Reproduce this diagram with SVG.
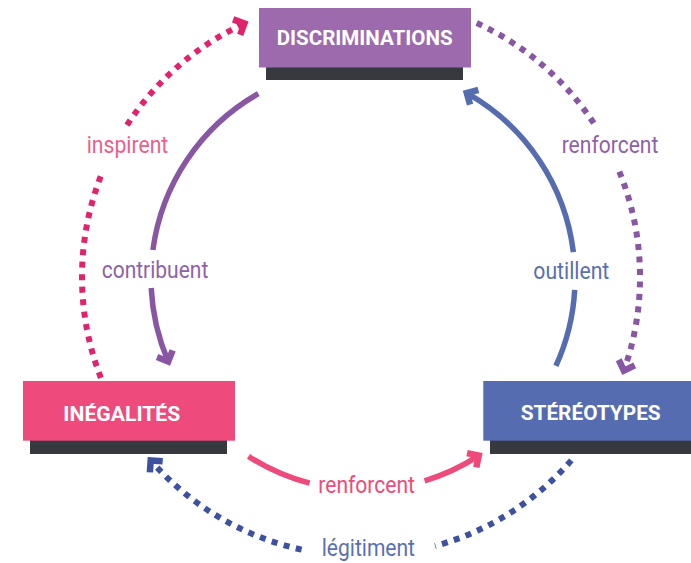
<svg xmlns="http://www.w3.org/2000/svg" width="691" height="563" viewBox="0 0 691 563">
<style>
.shadow{fill:#363a3e}
.boxtxt{font-family:Roboto,"Liberation Sans",sans-serif;font-weight:700;font-size:21px;fill:#ffffff}
.lbl{font-family:Roboto,"Liberation Sans",sans-serif;font-size:23px}
.solid{fill:none;stroke-width:5.5;stroke-linecap:butt}
.dot{fill:none;stroke-width:6;stroke-dasharray:6 6.5;stroke-linecap:butt}
</style>
<defs>
<marker id="hPurple" viewBox="-15 -15 30 30" markerWidth="30" markerHeight="30" refX="0" refY="0" orient="auto" markerUnits="userSpaceOnUse"><path d="M-8.5,-8.5 L0,0 L-8.5,8.5" fill="none" stroke="#8856a3" stroke-width="6.5"/></marker>
<marker id="hBlue" viewBox="-15 -15 30 30" markerWidth="30" markerHeight="30" refX="0" refY="0" orient="auto" markerUnits="userSpaceOnUse"><path d="M-8.5,-8.5 L0,0 L-8.5,8.5" fill="none" stroke="#566cb1" stroke-width="6.5"/></marker>
<marker id="hPink" viewBox="-15 -15 30 30" markerWidth="30" markerHeight="30" refX="0" refY="0" orient="auto" markerUnits="userSpaceOnUse"><path d="M-8.5,-8.5 L0,0 L-8.5,8.5" fill="none" stroke="#ee4a7c" stroke-width="6.5"/></marker>
<marker id="hMagenta" viewBox="-15 -15 30 30" markerWidth="30" markerHeight="30" refX="0" refY="0" orient="auto" markerUnits="userSpaceOnUse"><path d="M-8.5,-8.5 L0,0 L-8.5,8.5" fill="none" stroke="#e0236c" stroke-width="6.5"/></marker>
<marker id="hDBlue" viewBox="-15 -15 30 30" markerWidth="30" markerHeight="30" refX="0" refY="0" orient="auto" markerUnits="userSpaceOnUse"><path d="M-8.5,-8.5 L0,0 L-8.5,8.5" fill="none" stroke="#3d51a0" stroke-width="6.5"/></marker>
</defs>

<g id="connectors">
  <!-- contribuent (purple solid) -->
  <path class="solid" stroke="#8856a3" d="M258.3,93.7 A212,212 0 0 0 152.9,250"/>
  <path class="solid" stroke="#8856a3" marker-end="url(#hPurple)" d="M151.2,288 A212,212 0 0 0 168.2,361.5"/>
  <!-- outillent (blue solid) -->
  <path class="solid" stroke="#566cb1" d="M555.9,365.9 A212,212 0 0 0 574.7,289.8"/>
  <path class="solid" stroke="#566cb1" marker-end="url(#hBlue)" d="M573.4,252.2 A212,212 0 0 0 466.8,93.1"/>
  <!-- renforcent bottom (pink solid) -->
  <path class="solid" stroke="#ee4a7c" d="M248.5,456.4 A212,212 0 0 0 309.6,483.2"/>
  <path class="solid" stroke="#ee4a7c" marker-end="url(#hPink)" d="M424.6,480.8 A212,212 0 0 0 478.8,455.6"/>
  <!-- inspirent (magenta dotted) -->
  <path class="dot" stroke="#e0236c" d="M100.9,377.9 A279,279 0 0 1 102.3,172.5"/>
  <path class="dot" stroke="#e0236c" marker-end="url(#hMagenta)" d="M127,125.1 A279,279 0 0 1 244.4,23.5"/>
  <!-- renforcent top (purple dotted) -->
  <path class="dot" stroke="#8856a3" d="M476.7,23.1 A279,279 0 0 1 594.7,124.6"/>
  <path class="dot" stroke="#8856a3" marker-end="url(#hPurple)" d="M619.3,171.6 A279,279 0 0 1 623.9,370.6"/>
  <!-- légitiment (blue dotted) -->
  <path class="dot" stroke="#3d51a0" d="M571.3,460.4 A279,279 0 0 1 435.1,546"/>
  <path class="dot" stroke="#3d51a0" marker-end="url(#hDBlue)" d="M301.6,549.6 A279,279 0 0 1 150.7,460.4"/>
</g>

<g id="labels">
  <text class="lbl" fill="#ec5f8b" x="86.7" y="153" textLength="81.6" lengthAdjust="spacingAndGlyphs">inspirent</text>
  <text class="lbl" fill="#8f62a8" x="561.7" y="153" textLength="96.6" lengthAdjust="spacingAndGlyphs">renforcent</text>
  <text class="lbl" fill="#8f62a8" x="101.7" y="277.7" textLength="106.6" lengthAdjust="spacingAndGlyphs">contribuent</text>
  <text class="lbl" fill="#5a6fb3" x="533.3" y="279.3" textLength="76" lengthAdjust="spacingAndGlyphs">outillent</text>
  <text class="lbl" fill="#ee4a7c" x="318.3" y="493.3" textLength="96.7" lengthAdjust="spacingAndGlyphs">renforcent</text>
  <text class="lbl" fill="#5a6fb3" x="321.7" y="555.7" textLength="93.3" lengthAdjust="spacingAndGlyphs">légitiment</text>
</g>

<g id="discriminations">
  <rect class="shadow" x="266" y="66" width="197" height="14"/>
  <rect x="259" y="8" width="212" height="59.5" fill="#9d6aae"/>
  <text class="boxtxt" x="276.7" y="45" textLength="176" lengthAdjust="spacingAndGlyphs">DISCRIMINATIONS</text>
</g>

<g id="inegalites">
  <rect class="shadow" x="30" y="440" width="197" height="14"/>
  <rect x="23" y="381" width="212" height="59.7" fill="#ee4a7c"/>
  <text class="boxtxt" x="63.3" y="420.7" textLength="117" lengthAdjust="spacingAndGlyphs">INÉGALITÉS</text>
</g>

<g id="stereotypes">
  <rect class="shadow" x="490" y="440" width="201" height="14"/>
  <rect x="483.3" y="381" width="208" height="59.7" fill="#566cb1"/>
  <text class="boxtxt" x="520.7" y="419.5" textLength="140" lengthAdjust="spacingAndGlyphs">STÉRÉOTYPES</text>
</g>
</svg>
